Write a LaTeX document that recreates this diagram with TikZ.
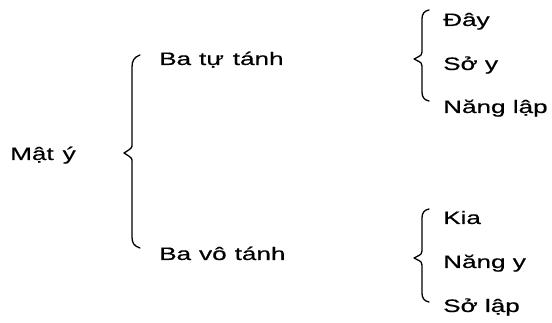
\documentclass[tikz,border=0pt]{standalone}
\usepackage{fontspec}
\setmainfont{Liberation Sans}[FakeStretch=1.45,FakeBold=0.5]
\begin{document}
\begin{tikzpicture}[x=1pt,y=-1pt,
  lbl/.style={anchor=base west,inner sep=0pt,font=\fontsize{18}{20}\selectfont},
  brace/.style={line width=1.3pt,line cap=round,line join=round}]
\useasboundingbox (0,0) rectangle (552,323);
\node[lbl] (maty) at (10,160) {Mật\hspace{9pt}ý};
\node[lbl] (btt) at (159,65) {Ba\hspace{8pt}tự\hspace{9pt}tánh};
\node[lbl] (bvt) at (159,260) {Ba\hspace{8pt}vô\hspace{8pt}tánh};
\node[lbl] (day) at (443,26) {Đây};
\node[lbl] (soy) at (443,70) {Sở y};
\node[lbl] (nl) at (443,113) {Năng lập};
\node[lbl] (kia) at (443,224) {Kia};
\node[lbl] (ny) at (443,268) {Năng y};
\node[lbl] (sl) at (443,312) {Sở lập};
% big brace
\coordinate (A1) at (140,55);
\coordinate (A2) at (124,153);
\coordinate (A3) at (140,248);
\draw[brace] (A1) .. controls (134,57) and (132,61) .. (132,67) -- (132,144)
  .. controls (132,148) .. (A2) .. controls (132,158) .. (132,162) -- (132,237)
  .. controls (132,243) and (134,246) .. (A3);
% small brace 1
\coordinate (B1) at (429,10);
\coordinate (B2) at (414,59);
\coordinate (B3) at (429,101);
\draw[brace] (B1) .. controls (424,11) and (422,14) .. (422,19) -- (422,52)
  .. controls (422,55) .. (B2) .. controls (422,63) .. (422,66) -- (422,92)
  .. controls (422,97) and (424,100) .. (B3);
% small brace 2
\coordinate (C1) at (429,209);
\coordinate (C2) at (414,258);
\coordinate (C3) at (429,302);
\draw[brace] (C1) .. controls (424,210) and (422,213) .. (422,218) -- (422,251)
  .. controls (422,254) .. (C2) .. controls (422,262) .. (422,265) -- (422,293)
  .. controls (422,298) and (424,301) .. (C3);
\end{tikzpicture}
\end{document}
